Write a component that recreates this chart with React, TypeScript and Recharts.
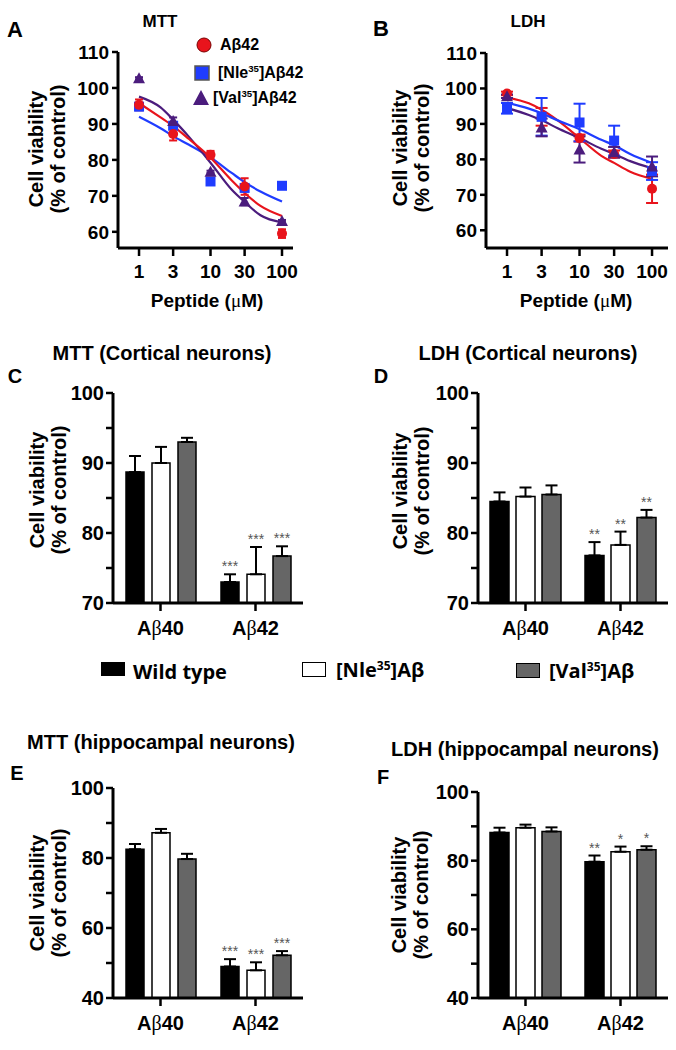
import React from 'react'
import { ComposedChart, Line, Scatter, XAxis, YAxis, ErrorBar, BarChart, Bar, LabelList } from 'recharts'

const FONT = '"Liberation Sans", Arial, sans-serif'
const RED = '#e8141c'
const BLUE = '#1f3cff'
const PURPLE = '#4b1c7d'

// dose-response panels (A, B)
const conc = [1, 3, 10, 30, 100]
const fitConc = [1, 2, 3, 5, 10, 20, 30, 50, 100]

const mttAb42 = [95.3, 87.2, 81.4, 72.6, 59.5]
const mttAb42Err = [1.5, 1.8, 1.1, 2.3, 1.2]
const mttNle = [94.8, 89.5, 74, 72.2, 72.8]
const mttNleErr = [0.5, 0.5, 0.3, 0.3, 0.3]
const mttVal = [102.7, 90.8, 76.7, 68.4, 63]
const mttValErr = [0.3, 1, 0.3, 1, 0.3]
const mttFitAb42 = [95.8, 91.8, 89.4, 85.8, 80.6, 74.2, 70.8, 67.2, 64.4]
const mttFitNle = [92, 88.8, 86.6, 84.2, 80.7, 76.3, 73.8, 71.2, 68.4]
const mttFitVal = [97.6, 94.6, 91.2, 86.4, 79.2, 71.6, 68.3, 64.6, 62.6]

const ldhAb42 = [98.6, 92, 86, 81.5, 71.7]
const ldhAb42Err = [0.5, 2.5, 1, 1, 4]
const ldhNle = [94.4, 92, 90.4, 85.3, 76.7]
const ldhNleErr = [1.5, 5.3, 5.3, 4.2, 2.5]
const ldhVal = [97.8, 89, 82.8, 82, 78]
const ldhValErr = [0.5, 2.5, 3.7, 1.5, 2.8]
const ldhFitAb42 = [97.5, 95.8, 94, 91, 86, 81, 79, 76.5, 74.5]
const ldhFitNle = [96, 94.3, 93, 91, 88.5, 85.5, 84, 81.5, 79]
const ldhFitVal = [94.5, 92.5, 91, 88.8, 86, 83, 81.5, 79.5, 77.5]

// bar panels (C-F)
const groups = ['Aβ40', 'Aβ42']

const cortMttWild = [88.7, 73]
const cortMttWildErr = [2.3, 1.1]
const cortMttNle = [90, 74.1]
const cortMttNleErr = [2.3, 3.9]
const cortMttVal = [93, 76.7]
const cortMttValErr = [0.6, 1.4]

const cortLdhWild = [84.5, 76.8]
const cortLdhWildErr = [1.3, 1.9]
const cortLdhNle = [85.2, 78.3]
const cortLdhNleErr = [1.3, 1.9]
const cortLdhVal = [85.5, 82.2]
const cortLdhValErr = [1.3, 1.1]

const hipMttWild = [82.5, 49]
const hipMttWildErr = [1.5, 2.1]
const hipMttNle = [87.2, 47.9]
const hipMttNleErr = [1.1, 2.3]
const hipMttVal = [79.7, 52.2]
const hipMttValErr = [1.5, 1.2]

const hipLdhWild = [88.2, 79.7]
const hipLdhWildErr = [1.4, 1.8]
const hipLdhNle = [89.6, 82.6]
const hipLdhNleErr = [0.9, 1.5]
const hipLdhVal = [88.5, 83.2]
const hipLdhValErr = [1.2, 1.0]

const toPts = (xs: number[], ys: number[], es?: number[]) =>
  xs.map((x, i) => ({ x, y: ys[i], err: es ? es[i] : 0 }))

const circle = (c: string) => (p: any) => <circle cx={p.cx} cy={p.cy} r={5} fill={c} />
const square = (c: string) => (p: any) => <rect x={p.cx - 5} y={p.cy - 5} width={10} height={10} fill={c} />
const triangle = (c: string) => (p: any) => (
  <polygon points={`${p.cx},${p.cy - 6} ${p.cx - 6},${p.cy + 5} ${p.cx + 6},${p.cy + 5}`} fill={c} />
)

const axisLine = { stroke: '#000', strokeWidth: 3 }
const tickLine = { stroke: '#000', strokeWidth: 2.5 }

function DosePanel({ left, yAxisW, rightM, topM, domainX, domainY, series, capW }: any) {
  return (
    <div style={{ position: 'absolute', left, top: 0 }}>
      <ComposedChart width={340} height={300} margin={{ top: topM, right: rightM, bottom: 22, left: 0 }}>
        <XAxis
          dataKey="x" type="number" scale="log" domain={domainX} ticks={conc} allowDataOverflow
          height={30} tickSize={8} tickMargin={9} axisLine={axisLine} tickLine={tickLine}
          tick={{ fill: '#000', fontSize: 19, fontWeight: 700, fontFamily: FONT }}
        />
        <YAxis
          dataKey="y" type="number" domain={domainY} ticks={[60, 70, 80, 90, 100, 110]} allowDataOverflow
          width={yAxisW} tickSize={6} tickMargin={3} axisLine={axisLine} tickLine={tickLine}
          tick={{ fill: '#000', fontSize: 19, fontWeight: 700, fontFamily: FONT }}
        />
        {series.map((s: any) => (
          <Line key={'f' + s.name} data={s.fit} dataKey="y" type="monotone" dot={false}
            stroke={s.color} strokeWidth={2.2} isAnimationActive={false} />
        ))}
        {series.map((s: any) => (
          <Scatter key={'p' + s.name} data={s.pts} dataKey="y" shape={s.shape} isAnimationActive={false}>
            <ErrorBar dataKey="err" direction="y" width={capW} stroke={s.color} strokeWidth={2} />
          </Scatter>
        ))}
      </ComposedChart>
    </div>
  )
}

const makeRows = (w: number[], we: number[], n: number[], ne: number[], v: number[], ve: number[]) =>
  groups.map((g, i) => ({
    group: g,
    wild: w[i], wildErr: [0, we[i]],
    nle: n[i], nleErr: [0, ne[i]],
    val: v[i], valErr: [0, ve[i]],
  }))

const starLabel = (vals: number[], errs: number[], stars: string[], base: number) => (p: any) => {
  const i = p.index
  const s = stars[i]
  if (!s) return null
  const vb = p.viewBox || p
  const h = vb.height ?? p.height
  const per = h / (vals[i] - base)
  const y = vb.y - errs[i] * per - 3
  return (
    <text x={vb.x + vb.width / 2} y={y} textAnchor="middle" fontSize={14} fill="#555" fontFamily={FONT}>
      {s}
    </text>
  )
}

const GroupTick = (p: any) => {
  const v: string = p.payload.value
  return (
    <text x={p.x} y={p.y} dy={14} textAnchor="middle" fontFamily={FONT} fontWeight={700} fontSize={20} fill="#000">
      {v[0]}
      <tspan fontWeight={400} fontFamily='"Liberation Serif", serif'>{v[1]}</tspan>
      {v.slice(2)}
    </text>
  )
}

function BarPanel({ left, top, height, topM, bottomM, yAxisW, rightM, data, domain, ticks, major, barSize, barGap, vals, stars }: any) {
  const base = domain[0]
  return (
    <div style={{ position: 'absolute', left, top }}>
      <BarChart width={340} height={height} data={data} barSize={barSize} barGap={barGap}
        margin={{ top: topM, right: rightM, bottom: bottomM, left: 0 }}>
        <XAxis dataKey="group" height={30} tickSize={8} tickMargin={10} axisLine={axisLine} tickLine={tickLine} tick={<GroupTick />} />
        <YAxis type="number" domain={domain} ticks={ticks} allowDataOverflow width={yAxisW} tickSize={7} tickMargin={2}
          axisLine={axisLine} tickLine={tickLine}
          tickFormatter={(t: number) => (t % major === 0 ? String(t) : '')}
          tick={{ fill: '#000', fontSize: 20, fontWeight: 700, fontFamily: FONT }} />
        <Bar dataKey="wild" fill="#000" stroke="#000" strokeWidth={1.5} isAnimationActive={false}>
          <ErrorBar dataKey="wildErr" direction="y" width={6} stroke="#000" strokeWidth={2} />
          <LabelList dataKey="wild" content={starLabel(vals.wild, vals.wildErr, stars.wild, base)} />
        </Bar>
        <Bar dataKey="nle" fill="#fff" stroke="#000" strokeWidth={1.5} isAnimationActive={false}>
          <ErrorBar dataKey="nleErr" direction="y" width={6} stroke="#000" strokeWidth={2} />
          <LabelList dataKey="nle" content={starLabel(vals.nle, vals.nleErr, stars.nle, base)} />
        </Bar>
        <Bar dataKey="val" fill="#666" stroke="#000" strokeWidth={1.5} isAnimationActive={false}>
          <ErrorBar dataKey="valErr" direction="y" width={6} stroke="#000" strokeWidth={2} />
          <LabelList dataKey="val" content={starLabel(vals.val, vals.valErr, stars.val, base)} />
        </Bar>
      </BarChart>
    </div>
  )
}

const T = (props: any) => (
  <div style={{
    position: 'absolute', left: props.x, top: props.y, transform: 'translate(-50%,-50%)', whiteSpace: 'nowrap',
    fontFamily: FONT, fontWeight: 700, fontSize: props.size || 20, color: '#000', lineHeight: 1,
  }}>{props.children}</div>
)

const YLabel = ({ x, y }: any) => (
  <div style={{
    position: 'absolute', left: x, top: y, transform: 'translate(-50%,-50%) rotate(-90deg)', textAlign: 'center',
    whiteSpace: 'nowrap', fontFamily: FONT, fontWeight: 700, fontSize: 20, lineHeight: '22px',
  }}>Cell viability<br />(% of control)</div>
)

const Peptide = ({ x }: any) => (
  <T x={x} y={300} size={19}>Peptide (<span style={{ fontWeight: 400, fontFamily: '"Liberation Serif", serif' }}>μ</span>M)</T>
)

const LegTxt = ({ x, y, size, font, children }: any) => (
  <div style={{
    position: 'absolute', left: x, top: y, transform: 'translateY(-50%)', whiteSpace: 'nowrap',
    fontFamily: font || FONT, fontWeight: 700, fontSize: size, lineHeight: 1,
  }}>{children}</div>
)

const sup = (s: string) => <sup style={{ fontSize: '0.6em', verticalAlign: '0.6em', lineHeight: 0 }}>{s}</sup>

export default function App() {
  const mttSeries = [
    { name: 'nle', color: BLUE, shape: square(BLUE), pts: toPts(conc, mttNle, mttNleErr), fit: toPts(fitConc, mttFitNle) },
    { name: 'val', color: PURPLE, shape: triangle(PURPLE), pts: toPts(conc, mttVal, mttValErr), fit: toPts(fitConc, mttFitVal) },
    { name: 'ab42', color: RED, shape: circle(RED), pts: toPts(conc, mttAb42, mttAb42Err), fit: toPts(fitConc, mttFitAb42) },
  ]
  const ldhSeries = [
    { name: 'ab42', color: RED, shape: circle(RED), pts: toPts(conc, ldhAb42, ldhAb42Err), fit: toPts(fitConc, ldhFitAb42) },
    { name: 'nle', color: BLUE, shape: square(BLUE), pts: toPts(conc, ldhNle, ldhNleErr), fit: toPts(fitConc, ldhFitNle) },
    { name: 'val', color: PURPLE, shape: triangle(PURPLE), pts: toPts(conc, ldhVal, ldhValErr), fit: toPts(fitConc, ldhFitVal) },
  ]

  const v = (w: number[], we: number[], n: number[], ne: number[], va: number[], vae: number[]) =>
    ({ wild: w, wildErr: we, nle: n, nleErr: ne, val: va, valErr: vae })

  const cMtt = v(cortMttWild, cortMttWildErr, cortMttNle, cortMttNleErr, cortMttVal, cortMttValErr)
  const cLdh = v(cortLdhWild, cortLdhWildErr, cortLdhNle, cortLdhNleErr, cortLdhVal, cortLdhValErr)
  const hMtt = v(hipMttWild, hipMttWildErr, hipMttNle, hipMttNleErr, hipMttVal, hipMttValErr)
  const hLdh = v(hipLdhWild, hipLdhWildErr, hipLdhNle, hipLdhNleErr, hipLdhVal, hipLdhValErr)

  const rows = (x: any) => makeRows(x.wild, x.wildErr, x.nle, x.nleErr, x.val, x.valErr)

  return (
    <div style={{ position: 'absolute', left: 0, top: 0, width: 676, height: 1050, background: '#fff', fontFamily: FONT }}>
      <DosePanel left={0} yAxisW={118} rightM={47} topM={52} domainX={[0.508, 142.5]} domainY={[55.5, 110]} series={mttSeries} capW={4} />
      <DosePanel left={336} yAxisW={150} rightM={8} topM={53} domainX={[0.513, 166]} domainY={[55, 110]} series={ldhSeries} capW={6} />

      <BarPanel left={0} top={340} height={310} topM={53} bottomM={17} yAxisW={113} rightM={37}
        data={rows(cMtt)} domain={[70, 100]} ticks={[70, 75, 80, 85, 90, 95, 100]} major={10} barSize={18} barGap={8}
        vals={cMtt} stars={{ wild: ['', '***'], nle: ['', '***'], val: ['', '***'] }} />
      <BarPanel left={336} top={340} height={310} topM={53} bottomM={17} yAxisW={142} rightM={8}
        data={rows(cLdh)} domain={[70, 100]} ticks={[70, 75, 80, 85, 90, 95, 100]} major={10} barSize={19} barGap={7}
        vals={cLdh} stars={{ wild: ['', '**'], nle: ['', '**'], val: ['', '**'] }} />
      <BarPanel left={0} top={740} height={300} topM={48} bottomM={12} yAxisW={113} rightM={37}
        data={rows(hMtt)} domain={[40, 100]} ticks={[40, 50, 60, 70, 80, 90, 100]} major={20} barSize={18} barGap={8}
        vals={hMtt} stars={{ wild: ['', '***'], nle: ['', '***'], val: ['', '***'] }} />
      <BarPanel left={336} top={740} height={300} topM={52} bottomM={12} yAxisW={142} rightM={8}
        data={rows(hLdh)} domain={[40, 100]} ticks={[40, 50, 60, 70, 80, 90, 100]} major={20} barSize={19} barGap={7}
        vals={hLdh} stars={{ wild: ['', '**'], nle: ['', '*'], val: ['', '*'] }} />

      {/* panel letters and titles */}
      <T x={15} y={30} size={22}>A</T>
      <T x={160} y={21} size={17}>MTT</T>
      <T x={381} y={29} size={22}>B</T>
      <T x={528} y={21} size={17}>LDH</T>
      <Peptide x={207} />
      <Peptide x={576} />

      <T x={15} y={376} size={20}>C</T>
      <T x={162} y={353}>MTT (Cortical neurons)</T>
      <T x={381} y={376} size={20}>D</T>
      <T x={528} y={353}>LDH (Cortical neurons)</T>
      <T x={17} y={773} size={20}>E</T>
      <T x={161} y={742}>MTT (hippocampal neurons)</T>
      <T x={383} y={777} size={20}>F</T>
      <T x={525} y={749}>LDH (hippocampal neurons)</T>

      <YLabel x={47} y={149} />
      <YLabel x={411} y={148} />
      <YLabel x={48} y={490} />
      <YLabel x={411} y={491} />
      <YLabel x={48} y={893} />
      <YLabel x={410} y={895} />

      {/* legend of panel A */}
      <svg style={{ position: 'absolute', left: 190, top: 30 }} width={30} height={80}>
        <circle cx={14} cy={15} r={7} fill={RED} stroke="#7a0000" strokeWidth={1} />
        <rect x={5} y={36} width={14} height={14} fill={BLUE} stroke="#555" strokeWidth={1.5} />
        <polygon points="11,60 3,75 19,75" fill={PURPLE} />
      </svg>
      <LegTxt x={220} y={45} size={16}>A&beta;42</LegTxt>
      <LegTxt x={218} y={73} size={16}>[Nle{sup('35')}]A&beta;42</LegTxt>
      <LegTxt x={213} y={98} size={16}>[Val{sup('35')}]A&beta;42</LegTxt>

      {/* shared legend C-F */}
      <div style={{ position: 'absolute', left: 101, top: 662, width: 24, height: 14, background: '#000' }} />
      <LegTxt x={133} y={672} size={20} font='"Open Sans", sans-serif'>Wild type</LegTxt>
      <div style={{ position: 'absolute', left: 302, top: 662, width: 22, height: 13, background: '#fff', border: '1px solid #000' }} />
      <LegTxt x={336} y={670} size={20} font='"Open Sans", sans-serif'>[Nle{sup('35')}]A&beta;</LegTxt>
      <div style={{ position: 'absolute', left: 516, top: 663, width: 22, height: 13, background: '#666', border: '1px solid #000' }} />
      <LegTxt x={549} y={671} size={20} font='"Open Sans", sans-serif'>[Val{sup('35')}]A&beta;</LegTxt>
    </div>
  )
}
